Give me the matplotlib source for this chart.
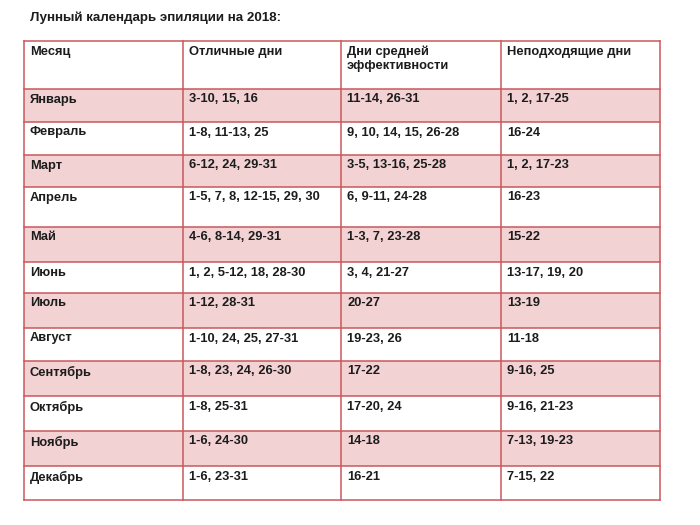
import matplotlib
matplotlib.use('Agg')
import matplotlib.pyplot as plt
from matplotlib.patches import Rectangle

# table content
title = 'Лунный календарь эпиляции на 2018:'
headers = ['Месяц', 'Отличные дни', 'Дни средней\nэффективности', 'Неподходящие дни']
months = ['Январь', 'Февраль', 'Март', 'Апрель', 'Май', 'Июнь',
          'Июль', 'Август', 'Сентябрь', 'Октябрь', 'Ноябрь', 'Декабрь']
good_days = ['3-10, 15, 16', '1-8, 11-13, 25', '6-12, 24, 29-31',
             '1-5, 7, 8, 12-15, 29, 30', '4-6, 8-14, 29-31', '1, 2, 5-12, 18, 28-30',
             '1-12, 28-31', '1-10, 24, 25, 27-31', '1-8, 23, 24, 26-30',
             '1-8, 25-31', '1-6, 24-30', '1-6, 23-31']
medium_days = ['11-14, 26-31', '9, 10, 14, 15, 26-28', '3-5, 13-16, 25-28',
               '6, 9-11, 24-28', '1-3, 7, 23-28', '3, 4, 21-27',
               '20-27', '19-23, 26', '17-22',
               '17-20, 24', '14-18', '16-21']
bad_days = ['1, 2, 17-25', '16-24', '1, 2, 17-23',
            '16-23', '15-22', '13-17, 19, 20',
            '13-19', '11-18', '9-16, 25',
            '9-16, 21-23', '7-13, 19-23', '7-15, 22']

# layout in pixels
col_x = [24, 183, 341, 501, 660]
row_y = [41, 89, 122, 155, 187, 227, 262, 293, 328, 361, 396, 431, 466, 500]
line_color = '#c9585c'
fill_color = '#f2d2d3'
text_color = '#1c1c1c'
font = 'Liberation Sans'

fig = plt.figure(figsize=(7, 5.25), dpi=100)
ax = fig.add_axes([0, 0, 1, 1])
ax.set_xlim(0, 700)
ax.set_ylim(525, 0)
ax.axis('off')

ax.text(30, 18, title, fontsize=9.6, fontweight='bold', family=font,
        color=text_color, va='center', ha='left')

rows = [headers] + [list(r) for r in zip(months, good_days, medium_days, bad_days)]

for i, row in enumerate(rows):
    y0, y1 = row_y[i], row_y[i + 1]
    if i >= 1 and (i - 1) % 2 == 0:
        ax.add_patch(Rectangle((col_x[0], y0), col_x[-1] - col_x[0], y1 - y0,
                               facecolor=fill_color, edgecolor='none', zorder=1))
    for j, txt in enumerate(row):
        ax.text(col_x[j] + 6, y0 + 4.5, txt, fontsize=9.3, fontweight='bold',
                family=font, color=text_color, va='top', ha='left',
                linespacing=1.2, zorder=3)

for y in row_y:
    ax.plot([col_x[0], col_x[-1]], [y, y], color=line_color, lw=1.1, zorder=2)
for x in col_x:
    ax.plot([x, x], [row_y[0], row_y[-1]], color=line_color, lw=1.1, zorder=2)

fig.savefig('out.png', dpi=100)
